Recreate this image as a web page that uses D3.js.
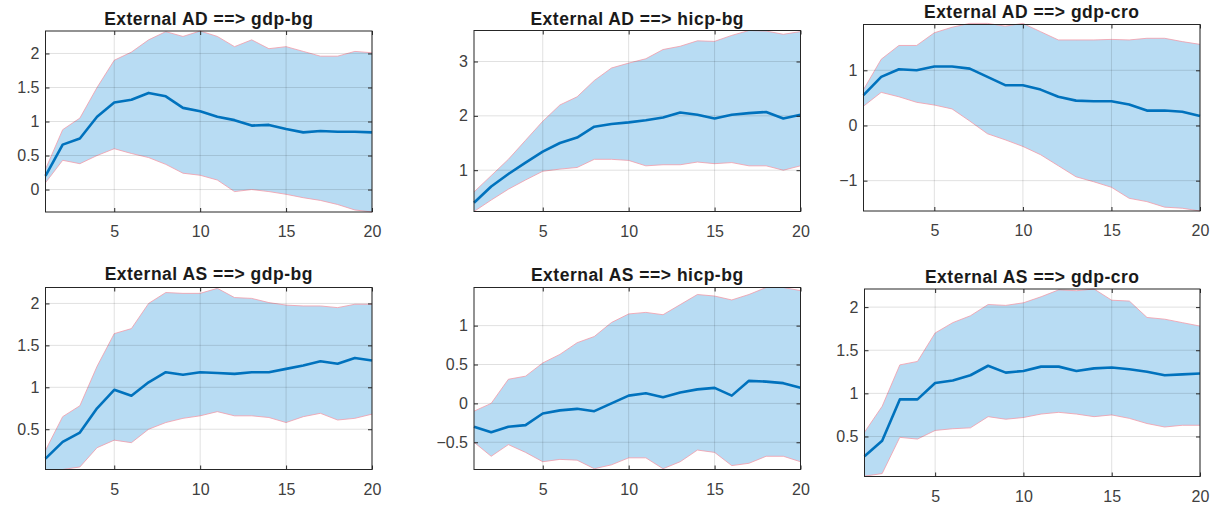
<!DOCTYPE html>
<html>
<head>
<meta charset="utf-8">
<script src="https://cdn.jsdelivr.net/npm/d3@7"></script>
<style>
  body { margin: 0; background: #fff; }
  svg text { font-family: "Liberation Sans", Arial, sans-serif; }
</style>
</head>
<body>
<svg id="chart" width="1214" height="508"></svg>
<script>
// ----------------------------------------------------------------------------
// data: impulse responses, horizon 1..20 (median + lower / upper band)
// ----------------------------------------------------------------------------
const horizon = d3.range(1, 21);
const titles = [
  'External AD ==> gdp-bg', 'External AD ==> hicp-bg', 'External AD ==> gdp-cro',
  'External AS ==> gdp-bg', 'External AS ==> hicp-bg', 'External AS ==> gdp-cro'
];
const xTicks = [5, 10, 15, 20];

// External AD ==> gdp-bg
const adGdpBgMed = [0.2, 0.66, 0.75, 1.07, 1.28, 1.32, 1.42, 1.37, 1.2, 1.15, 1.07, 1.02, 0.94, 0.95, 0.89, 0.84, 0.86, 0.85, 0.85, 0.84];
const adGdpBgUp  = [0.3, 0.88, 1.05, 1.5, 1.9, 2.02, 2.2, 2.32, 2.25, 2.33, 2.25, 2.1, 2.2, 2.07, 2.1, 2.03, 1.96, 1.96, 2.03, 2.01];
const adGdpBgLo  = [0.1, 0.43, 0.38, 0.5, 0.6, 0.53, 0.47, 0.37, 0.24, 0.21, 0.14, -0.03, 0.0, -0.03, -0.07, -0.12, -0.16, -0.22, -0.3, -0.33];

// External AD ==> hicp-bg
const adHicpBgMed = [0.4, 0.7, 0.93, 1.14, 1.34, 1.5, 1.6, 1.8, 1.85, 1.88, 1.92, 1.97, 2.06, 2.02, 1.95, 2.02, 2.05, 2.07, 1.95, 2.02];
const adHicpBgUp  = [0.6, 0.9, 1.2, 1.55, 1.9, 2.2, 2.35, 2.65, 2.88, 2.97, 3.05, 3.22, 3.28, 3.38, 3.37, 3.48, 3.57, 3.56, 3.5, 3.55];
const adHicpBgLo  = [0.24, 0.45, 0.65, 0.82, 0.98, 1.02, 1.05, 1.2, 1.2, 1.18, 1.08, 1.1, 1.1, 1.15, 1.12, 1.14, 1.08, 1.08, 1.0, 1.08];

// External AD ==> gdp-cro
const adGdpCroMed = [0.55, 0.88, 1.02, 1.0, 1.07, 1.07, 1.03, 0.88, 0.73, 0.73, 0.65, 0.52, 0.45, 0.44, 0.44, 0.38, 0.27, 0.27, 0.25, 0.17];
const adGdpCroUp  = [0.65, 1.2, 1.45, 1.45, 1.68, 1.78, 1.85, 1.85, 1.8, 1.85, 1.7, 1.55, 1.55, 1.55, 1.56, 1.55, 1.58, 1.58, 1.52, 1.47];
const adGdpCroLo  = [0.35, 0.6, 0.52, 0.42, 0.37, 0.3, 0.08, -0.15, -0.26, -0.38, -0.53, -0.73, -0.93, -1.02, -1.12, -1.32, -1.38, -1.48, -1.5, -1.55];

// External AS ==> gdp-bg
const asGdpBgMed = [0.15, 0.35, 0.46, 0.75, 0.97, 0.9, 1.06, 1.18, 1.15, 1.18, 1.17, 1.16, 1.18, 1.18, 1.22, 1.26, 1.31, 1.28, 1.35, 1.32];
const asGdpBgUp  = [0.25, 0.65, 0.78, 1.25, 1.64, 1.7, 2.0, 2.13, 2.12, 2.12, 2.18, 2.07, 2.06, 2.01, 1.98, 1.97, 1.97, 1.95, 1.99, 1.99];
const asGdpBgLo  = [0.02, 0.02, 0.05, 0.28, 0.37, 0.34, 0.5, 0.58, 0.63, 0.66, 0.71, 0.66, 0.66, 0.64, 0.58, 0.65, 0.69, 0.61, 0.63, 0.68];

// External AS ==> hicp-bg
const asHicpBgMed = [-0.3, -0.37, -0.3, -0.28, -0.13, -0.09, -0.07, -0.1, 0.0, 0.1, 0.13, 0.08, 0.14, 0.18, 0.2, 0.1, 0.29, 0.28, 0.26, 0.2];
const asHicpBgUp  = [-0.1, 0.0, 0.31, 0.35, 0.52, 0.63, 0.78, 0.86, 1.04, 1.15, 1.17, 1.14, 1.27, 1.4, 1.38, 1.33, 1.4, 1.49, 1.49, 1.45];
const asHicpBgLo  = [-0.5, -0.68, -0.53, -0.63, -0.75, -0.72, -0.73, -0.84, -0.79, -0.7, -0.7, -0.84, -0.75, -0.6, -0.63, -0.8, -0.77, -0.68, -0.68, -0.75];

// External AS ==> gdp-cro
const asGdpCroMed = [0.27, 0.45, 0.93, 0.93, 1.12, 1.15, 1.21, 1.32, 1.24, 1.26, 1.31, 1.31, 1.26, 1.29, 1.3, 1.28, 1.25, 1.21, 1.22, 1.23];
const asGdpCroUp  = [0.55, 0.85, 1.33, 1.37, 1.7, 1.82, 1.9, 2.03, 2.02, 2.05, 2.12, 2.2, 2.19, 2.21, 2.08, 2.07, 1.88, 1.86, 1.82, 1.78];
const asGdpCroLo  = [0.04, 0.07, 0.49, 0.47, 0.57, 0.59, 0.6, 0.73, 0.7, 0.72, 0.76, 0.78, 0.76, 0.73, 0.75, 0.71, 0.65, 0.61, 0.63, 0.63];

const yDomains = [[-0.33, 2.33], [0.24, 3.57], [-1.55, 1.83], [0.02, 2.19], [-0.85, 1.49], [0.036, 2.21]];
const yTicks = [[0, 0.5, 1, 1.5, 2], [1, 2, 3], [-1, 0, 1], [0.5, 1, 1.5, 2], [-0.5, 0, 0.5, 1], [0.5, 1, 1.5, 2]];

const series = [
  [adGdpBgMed, adGdpBgLo, adGdpBgUp],
  [adHicpBgMed, adHicpBgLo, adHicpBgUp],
  [adGdpCroMed, adGdpCroLo, adGdpCroUp],
  [asGdpBgMed, asGdpBgLo, asGdpBgUp],
  [asHicpBgMed, asHicpBgLo, asHicpBgUp],
  [asGdpCroMed, asGdpCroLo, asGdpCroUp]
];

// ----------------------------------------------------------------------------
// layout of the six axes boxes (pixels)
// ----------------------------------------------------------------------------
const boxes = [
  {l: 45.5, r: 372, t: 31, b: 212, ty: 25},
  {l: 474, r: 800.5, t: 30.5, b: 211.5, ty: 25},
  {l: 863.5, r: 1200, t: 24.5, b: 211, ty: 18},
  {l: 45.5, r: 372, t: 287.5, b: 469.5, ty: 280},
  {l: 474, r: 800.5, t: 287.5, b: 469.5, ty: 281},
  {l: 864.5, r: 1200, t: 289, b: 476.5, ty: 283}
];

const svg = d3.select('#chart');
const fmt = d => d3.format('')(d);

boxes.forEach((bx, i) => {
  const g = svg.append('g');
  const x = d3.scaleLinear().domain([1, 20]).range([bx.l, bx.r]);
  const y = d3.scaleLinear().domain(yDomains[i]).range([bx.b, bx.t]);
  const [med, lo, up] = series[i];

  g.append('rect')
    .attr('x', bx.l).attr('y', bx.t)
    .attr('width', bx.r - bx.l).attr('height', bx.b - bx.t)
    .attr('fill', '#fff');

  // band
  const area = d3.area()
    .x((d, k) => x(horizon[k]))
    .y0((d, k) => y(lo[k]))
    .y1((d, k) => y(up[k]));
  g.append('path')
    .attr('d', area(med))
    .attr('fill', '#b8dcf3')
    .attr('stroke', 'none');

  // thin red edges of the band
  const edge = arr => d3.line().x((d, k) => x(horizon[k])).y(d => y(d))(arr);
  [lo, up].forEach(arr => {
    g.append('path')
      .attr('d', edge(arr))
      .attr('fill', 'none')
      .attr('stroke', '#f29aa8')
      .attr('stroke-width', 0.8);
  });

  // grid (drawn over the band like matlab's layer top)
  xTicks.forEach(t => {
    g.append('line')
      .attr('x1', x(t)).attr('x2', x(t))
      .attr('y1', bx.t).attr('y2', bx.b)
      .attr('stroke', '#000').attr('stroke-opacity', 0.12).attr('stroke-width', 1);
  });
  yTicks[i].forEach(t => {
    g.append('line')
      .attr('x1', bx.l).attr('x2', bx.r)
      .attr('y1', y(t)).attr('y2', y(t))
      .attr('stroke', '#000').attr('stroke-opacity', 0.12).attr('stroke-width', 1);
  });

  // median
  g.append('path')
    .attr('d', edge(med))
    .attr('fill', 'none')
    .attr('stroke', '#0072bd')
    .attr('stroke-width', 2.6)
    .attr('stroke-linejoin', 'round');

  // axes: bottom / left with labels, top / right just ticks
  const axB = g.append('g').attr('transform', `translate(0,${bx.b})`)
    .call(d3.axisBottom(x).tickValues(xTicks).tickSizeInner(-4).tickSizeOuter(0).tickPadding(14).tickFormat(fmt));
  const axL = g.append('g').attr('transform', `translate(${bx.l},0)`)
    .call(d3.axisLeft(y).tickValues(yTicks[i]).tickSizeInner(-4).tickSizeOuter(0).tickPadding(6).tickFormat(fmt));
  const axT = g.append('g').attr('transform', `translate(0,${bx.t})`)
    .call(d3.axisTop(x).tickValues(xTicks).tickSizeInner(-4).tickSizeOuter(0).tickFormat(''));
  const axR = g.append('g').attr('transform', `translate(${bx.r},0)`)
    .call(d3.axisRight(y).tickValues(yTicks[i]).tickSizeInner(-4).tickSizeOuter(0).tickFormat(''));

  [axB, axL, axT, axR].forEach(a => {
    a.select('.domain').remove();
    a.selectAll('.tick line').attr('stroke', '#262626');
    a.selectAll('.tick text')
      .attr('fill', '#404040')
      .style('font-size', '16px');
  });

  g.append('rect')
    .attr('x', bx.l).attr('y', bx.t)
    .attr('width', bx.r - bx.l).attr('height', bx.b - bx.t)
    .attr('fill', 'none')
    .attr('stroke', '#262626')
    .attr('stroke-width', 1);

  g.append('text')
    .attr('x', (bx.l + bx.r) / 2)
    .attr('y', bx.ty)
    .attr('text-anchor', 'middle')
    .style('font-size', '17.5px')
    .style('font-weight', 'bold')
    .style('letter-spacing', '0.5px')
    .attr('fill', '#1a1a1a')
    .text(titles[i]);
});
</script>
</body>
</html>
